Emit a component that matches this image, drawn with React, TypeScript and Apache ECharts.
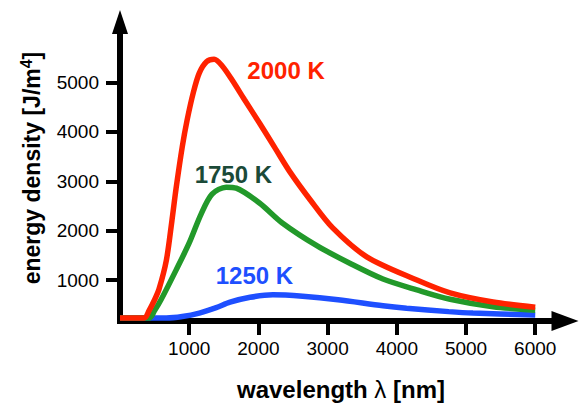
import React, { useEffect, useRef } from 'react';
import * as echarts from 'echarts';

// wavelength [nm], energy density
const curve2000K: [number, number][] = [
  [0, 230], [350, 230], [420, 380], [500, 600], [565, 820], [670, 1400], [750, 2200], [810, 2850],
  [900, 3700], [970, 4240], [1060, 4800], [1145, 5190], [1250, 5420], [1360, 5470],
  [1480, 5330], [1620, 5050], [1800, 4650], [2015, 4180], [2250, 3650], [2450, 3200],
  [2750, 2620], [3070, 2060], [3565, 1470], [4290, 1000], [4770, 740], [5390, 555], [6000, 450],
];
const curve1750K: [number, number][] = [
  [0, 230], [420, 230], [500, 380], [600, 620], [810, 1200], [1000, 1750], [1170, 2330], [1330, 2740],
  [1535, 2880], [1680, 2860], [2015, 2560], [2350, 2150], [2850, 1690], [3320, 1340],
  [3800, 1020], [4290, 800], [4770, 610], [5390, 460], [6000, 390],
];
const curve1250K: [number, number][] = [
  [0, 230], [670, 230], [900, 260], [1145, 330], [1390, 440], [1590, 550], [1880, 650], [2210, 700],
  [2640, 670], [3150, 600], [3800, 480], [4140, 430], [4750, 360], [5100, 330], [6000, 290],
];
const xTicks = [1000, 2000, 3000, 4000, 5000, 6000];
const yTicks = [1000, 2000, 3000, 4000, 5000];
const curveNames = ['2000 K', '1750 K', '1250 K'];
const labelAnchors: [number, number][] = [[2399, 5249], [1638, 3145], [1942, 1091]];

const FONT = '"Liberation Sans", Arial, sans-serif';

export default function App() {
  const ref = useRef<HTMLDivElement>(null);
  useEffect(() => {
    if (!ref.current) return;
    const chart = echarts.init(ref.current, undefined, { renderer: 'svg' });
    const lineColors = ['#ff2200', '#22992a', '#1e4fff'];
    const labelColors = ['#ff2200', '#1b4a38', '#1e4fff'];
    const datas = [curve2000K, curve1750K, curve1250K];
    const series = [2, 1, 0].map((i) => ({
      type: 'line',
      name: curveNames[i],
      data: datas[i],
      showSymbol: false,
      symbol: 'none',
      smooth: 0.3,
      lineStyle: { color: lineColors[i], width: 5.5 },
      z: 3 - i,
      markPoint: {
        symbol: 'circle',
        symbolSize: 1,
        itemStyle: { color: 'rgba(0,0,0,0)' },
        label: {
          show: true,
          position: 'inside',
          formatter: '{b}',
          fontFamily: FONT,
          fontWeight: 'bold',
          fontSize: 24,
          color: labelColors[i],
        },
        data: [{ name: curveNames[i], coord: labelAnchors[i] }],
      },
    }));
    const axisLineStyle = { color: '#000', width: 6, cap: 'square' };
    const plain = (v: number) => String(v);
    chart.setOption({
      animation: false,
      backgroundColor: '#fff',
      grid: { left: 120, right: 19, top: 22, bottom: 84, containLabel: false },
      xAxis: {
        type: 'value',
        min: 0,
        max: 6430,
        splitLine: { show: false },
        axisLine: {
          show: true,
          onZero: false,
          symbol: ['none', 'triangle'],
          symbolSize: [20, 27],
          lineStyle: axisLineStyle,
        },
        axisTick: { show: true, customValues: xTicks, length: 14, lineStyle: { width: 4, color: '#000' } },
        axisLabel: {
          customValues: xTicks,
          formatter: plain,
          fontFamily: FONT,
          fontSize: 19,
          color: '#000',
          margin: 18,
        },
      },
      yAxis: {
        type: 'value',
        min: 170,
        max: 6225,
        splitLine: { show: false },
        axisLine: {
          show: true,
          onZero: false,
          symbol: ['none', 'triangle'],
          symbolSize: [16, 24],
          lineStyle: axisLineStyle,
        },
        axisTick: { show: true, customValues: yTicks, length: 14, lineStyle: { width: 4, color: '#000' } },
        axisLabel: {
          customValues: yTicks,
          formatter: plain,
          fontFamily: FONT,
          fontSize: 19,
          color: '#000',
          margin: 21,
        },
      },
      graphic: [
        {
          type: 'text',
          x: 32,
          y: 168,
          rotation: Math.PI / 2,
          style: {
            text: '{a|energy density [J/m}{s|4}{a|]}',
            align: 'center',
            verticalAlign: 'middle',
            rich: {
              a: { fontFamily: FONT, fontWeight: 'bold', fontSize: 23, lineHeight: 28, fill: '#000', verticalAlign: 'middle' },
              s: { fontFamily: FONT, fontWeight: 'bold', fontSize: 16, lineHeight: 16, fill: '#000', verticalAlign: 'top' },
            },
          },
        },
        {
          type: 'text',
          x: 341,
          y: 389,
          style: {
            text: '{a|wavelength }{l|λ}{a| [nm]}',
            align: 'center',
            verticalAlign: 'middle',
            rich: {
              a: { fontFamily: FONT, fontWeight: 'bold', fontSize: 24, fill: '#000' },
              l: { fontFamily: FONT, fontWeight: 'normal', fontSize: 24, fill: '#000' },
            },
          },
        },
      ],
      series,
    });
    return () => chart.dispose();
  }, []);
  return (
    <div
      ref={ref}
      style={{ position: 'fixed', left: 0, top: 0, width: 584, height: 405, background: '#fff' }}
    />
  );
}
